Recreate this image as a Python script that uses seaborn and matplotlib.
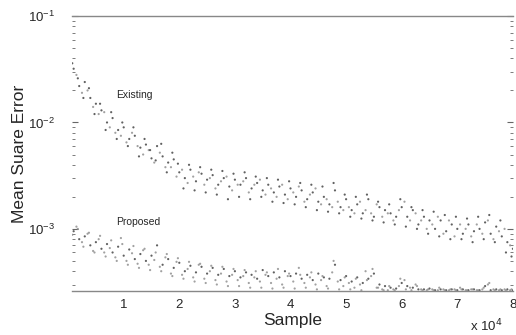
import pandas as pd
import matplotlib
matplotlib.use('Agg')
import matplotlib.pyplot as plt
import seaborn as sns

# sample positions (in thousands of samples)
x_a = [1, 2, 3, 4, 5, 6, 7, 8, 9, 10, 11, 12, 13, 14, 15, 16, 17, 18, 19, 20,
       21, 22, 23, 24, 25, 26, 27, 28, 29, 30, 31, 32, 33, 34, 35, 36, 37, 38, 39, 40,
       41, 42, 43, 44, 45, 46, 47, 48, 49, 50, 51, 52, 53, 54, 55, 56, 57, 58, 59, 60,
       61, 62, 63, 64, 65, 66, 67, 68, 69, 70, 71, 72, 73, 74, 75, 76, 77, 78, 79, 80]
x_b = [1.5, 2.5, 3.5, 4.5, 5.5, 6.5, 7.5, 8.5, 9.5, 10.5, 11.5, 12.5, 13.5, 14.5, 15.5, 16.5,
       17.5, 18.5, 19.5, 20.5, 21.5, 22.5, 23.5, 24.5, 25.5, 26.5, 27.5, 28.5, 29.5, 30.5,
       31.5, 32.5, 33.5, 34.5, 35.5, 36.5, 37.5, 38.5, 39.5, 40.5, 41.5, 42.5, 43.5, 44.5,
       45.5, 46.5, 47.5, 48.5, 49.5, 50.5, 51.5, 52.5, 53.5, 54.5, 55.5, 56.5, 57.5, 58.5,
       59.5, 60.5, 61.5, 62.5, 63.5, 64.5, 65.5, 66.5, 67.5, 68.5, 69.5, 70.5, 71.5, 72.5,
       73.5, 74.5, 75.5, 76.5, 77.5, 78.5, 79.5]
x_c = [0.75, 1.75, 2.75, 3.75, 4.75, 5.75, 6.75, 7.75, 8.75, 9.75, 10.75, 11.75, 12.75, 13.75,
       14.75, 15.75, 16.75, 17.75, 18.75, 19.75, 20.75, 21.75, 22.75, 23.75, 24.75, 25.75, 26.75,
       27.75, 28.75, 29.75, 30.75, 31.75, 32.75, 33.75, 34.75, 35.75, 36.75, 37.75, 38.75, 39.75,
       40.75, 41.75, 42.75, 43.75, 44.75, 45.75, 46.75, 47.75, 48.75, 49.75, 50.75, 51.75, 52.75,
       53.75, 54.75, 55.75, 56.75, 57.75, 58.75, 59.75, 60.75, 61.75, 62.75, 63.75, 64.75, 65.75,
       66.75, 67.75, 68.75, 69.75, 70.75, 71.75, 72.75, 73.75, 74.75, 75.75, 76.75, 77.75, 78.75, 79.75]

# existing method MSE (x 1e-3)
existing_a = [32, 22, 24, 17, 15, 13, 10, 11, 8.5, 9, 7, 7.5, 5.8, 6.2, 4.6, 6.0, 4.8, 4.2, 4.5, 3.4,
              3.0, 3.6, 2.8, 3.3, 2.9, 3.2, 2.6, 3.0, 2.5, 2.9, 2.6, 3.0, 2.4, 2.7, 2.3, 2.6, 2.2, 2.5, 2.1, 2.4,
              2.0, 2.3, 1.9, 2.2, 1.8, 2.0, 1.7, 2.3, 1.6, 1.9, 1.5, 1.7, 1.4, 1.9, 1.3, 1.6, 1.5, 1.4, 1.3, 1.6,
              1.3, 1.5, 1.1, 1.3, 1.2, 1.0, 1.2, 0.95, 1.1, 1.0, 0.9, 1.1, 0.95, 1.0, 1.15, 0.9, 1.05, 0.85, 0.75, 0.65]
existing_b = [28, 19, 20, 14, 12, 12.5, 9, 8, 7.5, 6.5, 8, 6, 5, 5.5, 4.2, 5.2, 3.8, 3.8, 3.1, 3.6,
              2.7, 3.1, 3.4, 2.6, 3.0, 2.4, 2.8, 3.1, 2.3, 2.6, 2.8, 2.2, 2.6, 2.9, 2.1, 2.4, 2.0, 2.6, 1.9, 2.2,
              2.5, 1.8, 2.1, 2.4, 1.7, 1.9, 1.6, 1.8, 1.5, 1.6, 1.4, 1.8, 1.5, 1.4, 1.7, 1.3, 1.4, 1.2, 1.5, 1.8,
              1.2, 1.4, 1.2, 1.0, 1.1, 1.3, 0.9, 1.2, 0.85, 1.1, 1.0, 0.85, 1.1, 0.9, 1.2, 0.8, 0.95, 1.0, 0.7]
existing_c = [36, 26, 17, 21, 12, 15, 8.5, 12.5, 7, 10, 6, 9, 4.8, 7, 5.5, 4.4, 6.3, 3.4, 5.2, 4.1,
              2.4, 4.0, 2.3, 3.8, 2.2, 3.6, 2.1, 3.5, 1.9, 3.3, 2.0, 3.4, 1.9, 3.1, 2.0, 3.0, 1.8, 2.9, 1.75, 2.8,
              1.7, 2.7, 1.6, 2.6, 1.5, 2.5, 1.45, 2.7, 1.4, 2.1, 1.3, 2.0, 1.25, 2.1, 1.2, 1.8, 1.15, 1.7, 1.1, 1.9,
              1.05, 1.6, 1.0, 1.5, 0.9, 1.45, 0.85, 1.35, 0.8, 1.3, 0.8, 1.25, 0.75, 1.3, 0.8, 1.35, 0.75, 1.2, 0.6, 0.55]

# proposed method MSE (x 1e-4)
proposed_a = [9.5, 8.0, 8.5, 7.0, 7.5, 6.5, 7.2, 6.0, 6.8, 5.6, 6.4, 5.2, 5.8, 5.0, 5.6, 7.0, 4.6, 5.2, 4.3, 4.8,
              4.0, 4.5, 3.9, 4.4, 3.8, 4.3, 3.7, 4.2, 3.6, 4.0, 3.5, 3.9, 3.7, 3.4, 4.1, 3.6, 3.9, 3.5, 4.0, 3.6,
              3.8, 3.4, 3.7, 3.3, 3.8, 3.5, 3.4, 4.6, 3.3, 3.6, 3.2, 3.5, 3.1, 3.4, 3.8, 3.0, 2.9, 2.8, 2.75, 3.1,
              2.9, 2.8, 2.7, 2.7, 2.75, 2.65, 2.7, 2.65, 2.7, 2.65, 2.7, 2.65, 2.7, 2.65, 2.9, 2.65, 2.7, 2.65, 2.7, 2.65]
proposed_b = [10.5, 7.5, 9.0, 6.2, 8.0, 6.0, 6.6, 5.4, 8.2, 5.0, 5.9, 4.7, 6.3, 4.6, 5.1, 4.4, 5.4, 3.8, 4.9, 3.7,
              4.2, 3.5, 4.6, 3.4, 4.0, 3.3, 3.8, 3.2, 3.7, 3.3, 3.6, 3.1, 3.5, 3.2, 3.7, 3.1, 3.4, 3.0, 3.6, 3.2,
              4.3, 3.1, 3.5, 3.0, 3.3, 2.9, 3.9, 3.2, 2.9, 3.1, 2.8, 3.0, 4.0, 3.6, 2.8, 2.7, 2.65, 2.7, 2.9, 3.3,
              2.8, 3.0, 2.7, 2.65, 2.7, 2.65, 2.7, 2.65, 2.7, 2.8, 2.65, 2.7, 2.65, 2.7, 3.0, 2.7, 2.65, 2.7, 2.65]
proposed_c = [8.8, 10, 6.8, 9.2, 6.0, 8.6, 5.5, 7.8, 5.0, 7.2, 4.6, 6.9, 4.3, 6.5, 4.1, 6.0, 4.0, 5.8, 3.6, 5.3,
              3.4, 4.9, 3.2, 4.7, 3.1, 4.5, 3.0, 4.4, 2.9, 4.2, 2.9, 4.1, 2.8, 4.0, 2.8, 3.9, 2.75, 4.2, 2.8, 3.8,
              2.75, 3.7, 2.8, 3.9, 2.7, 3.6, 2.75, 5.0, 2.7, 3.5, 2.7, 3.4, 2.65, 3.3, 4.2, 2.8, 2.65, 2.9, 2.65, 3.4,
              2.7, 2.65, 2.9, 2.65, 2.7, 2.65, 2.8, 2.65, 2.7, 2.65, 2.7, 2.65, 2.7, 2.65, 2.8, 3.1, 2.65, 2.7, 2.65, 2.7]

x_tick_labels = ['1', '2', '3', '4', '5', '6', '7', '8']

frames = []
for xs, ys, scale, shade in [(x_a, existing_a, 1e-3, 'dark'), (x_b, existing_b, 1e-3, 'light'),
                             (x_c, existing_c, 1e-3, 'dark'), (x_a, proposed_a, 1e-4, 'dark'),
                             (x_b, proposed_b, 1e-4, 'light'), (x_c, proposed_c, 1e-4, 'light')]:
    frames.append(pd.DataFrame({'sample': [v * 1000 for v in xs],
                                'mse': [v * scale for v in ys],
                                'shade': shade}))
df = pd.concat(frames, ignore_index=True)

sns.set_style('ticks')
plt.rcParams['font.family'] = ['Liberation Sans', 'DejaVu Sans']

fig = plt.figure(figsize=(5.16, 3.35), dpi=100)
ax = fig.add_axes([0.1395, 0.131, 0.8545, 0.821])

sns.scatterplot(data=df, x='sample', y='mse', hue='shade', ax=ax,
                palette={'dark': '#3a3a3a', 'light': '#8a8a8a'},
                s=2.5, marker='o', linewidth=0, alpha=0.8, legend=False)

ax.set_yscale('log')
ax.set_xlim(700, 80000)
ax.set_ylim(2.6e-4, 1e-1)

ax.set_xticks([10000, 20000, 30000, 40000, 50000, 60000, 70000, 80000])
ax.set_xticklabels(x_tick_labels)
ax.tick_params(axis='both', which='both', direction='in', color='#666666', labelsize=9.5)
ax.tick_params(axis='y', which='both', right=True, pad=12)
ax.tick_params(axis='y', which='major', length=4)
ax.tick_params(axis='y', which='minor', length=2.5)
ax.tick_params(axis='x', which='major', length=0, pad=6)

for side in ['left', 'right']:
    ax.spines[side].set_visible(False)
for side in ['top', 'bottom']:
    ax.spines[side].set_color('#888888')
    ax.spines[side].set_linewidth(1.0)

ax.set_xlabel('Sample', fontsize=12.5, labelpad=1)
ax.set_ylabel('Mean Suare Error', fontsize=12.5, labelpad=1)

ax.text(8600, 0.018, 'Existing', fontsize=7.5, va='center')
ax.text(8600, 1.17e-3, 'Proposed', fontsize=7.5, va='center')
fig.text(0.91, 0.027, r'x 10$^4$', fontsize=9.5, va='center')

fig.savefig('out.png', dpi=100)
